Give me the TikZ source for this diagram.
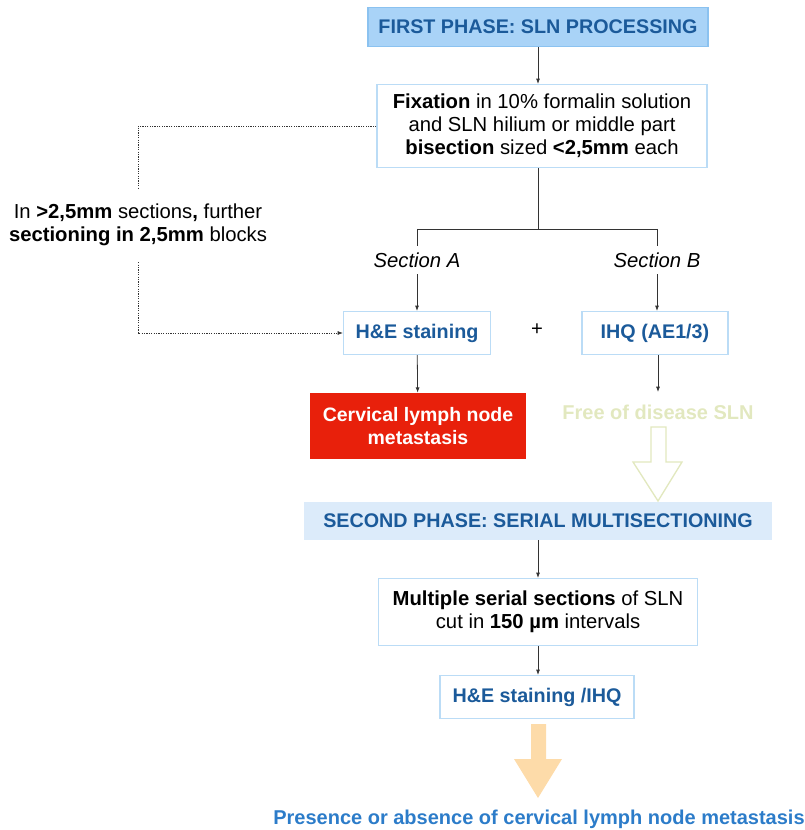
\documentclass[tikz,border=0pt]{standalone}
\usepackage{fontspec}
\setmainfont{Liberation Sans}
\usetikzlibrary{arrows.meta}

\definecolor{titleblue}{HTML}{1B5A9A}
\definecolor{resultblue}{HTML}{2C7CC9}
\definecolor{phaseonefill}{HTML}{A9D3F7}
\definecolor{phaseoneline}{HTML}{8BC2F0}
\definecolor{phasetwofill}{HTML}{DCEBFA}
\definecolor{boxline}{HTML}{BBDCF6}
\definecolor{metared}{HTML}{E8200B}
\definecolor{freegreen}{HTML}{E2E8BF}
\definecolor{bigorange}{HTML}{FDDBA9}
\definecolor{linegray}{HTML}{333333}

\begin{document}
\begin{tikzpicture}[
            x=0.75pt,
            y=-0.75pt,
            font=\fontsize{15.2}{17.4}\selectfont,
            box/.style={
                draw=boxline,
                fill=white,
                line width=0.8pt,
                align=center,
                inner sep=0pt
            },
            phase/.style={
                inner sep=0pt,
                align=center,
                text=titleblue,
                font=\fontsize{14.8}{17}\selectfont\bfseries
            },
            bluelabel/.style={
                text=titleblue,
                font=\fontsize{14.8}{17}\selectfont\bfseries
            },
            link/.style={
                draw=linegray,
                line width=0.6pt,
                -{Latex[length=4pt,width=3pt]}
            },
            plain/.style={
                draw=linegray,
                line width=0.6pt
            },
            dotline/.style={
                draw=linegray,
                line width=0.6pt,
                dash pattern=on 0.9pt off 0.9pt,
                -{Latex[length=4pt,width=3pt]}
            }
        ]

            \useasboundingbox (0,0) rectangle (805,830);

            % first phase
            \node[phase, draw=phaseoneline, fill=phaseonefill, line width=0.8pt,
                minimum width=255pt, minimum height=29.25pt] (p1) at (538, 27)
                {FIRST PHASE: SLN PROCESSING};

            \node[box, minimum width=247.5pt, minimum height=62.25pt] (fix) at (542, 126)
                {\textbf{Fixation} in 10\% formalin solution\\
                 and SLN hilium or middle part\\
                 \textbf{bisection} sized \textbf{<2,5mm} each};

            \node[align=center, minimum height=55.5pt, inner sep=0pt] (note) at (138, 225)
                {In \textbf{>2,5mm} sections\textbf{,} further\\
                 \textbf{sectioning in 2,5mm} blocks};

            \coordinate (split) at (538, 229);
            \coordinate (bA) at (417, 229);
            \coordinate (bB) at (657, 229);

            \node[font=\fontsize{15.2}{17}\selectfont\itshape, inner sep=5pt] (secA) at (417, 260) {Section A};
            \node[font=\fontsize{15.2}{17}\selectfont\itshape, inner sep=5pt] (secB) at (657, 260) {Section B};

            \node[box, bluelabel, minimum width=110.25pt, minimum height=32.25pt] (he) at (417, 333)
                {H\&E staining};
            \node[box, bluelabel, minimum width=109.5pt, minimum height=32.25pt] (ihq) at (655, 333)
                {IHQ (AE1/3)};
            \node (plus) at (537, 330) {+};

            \node[fill=metared, text=white, align=center, inner sep=0pt,
                font=\fontsize{14.6}{17}\selectfont\bfseries,
                minimum width=162pt, minimum height=49.5pt] (meta) at (418, 426)
                {Cervical lymph node\\metastasis};
            \node[text=freegreen, font=\fontsize{15}{17}\selectfont\bfseries,
                inner sep=0pt, minimum height=15pt] (free) at (658, 412)
                {Free of disease SLN};

            % second phase
            \node[phase, fill=phasetwofill, minimum width=351pt, minimum height=28.5pt] (p2) at (538, 521)
                {SECOND PHASE: SERIAL MULTISECTIONING};

            \node[box, minimum width=239.25pt, minimum height=50.25pt] (multi) at (538, 612)
                {\textbf{Multiple serial sections} of SLN\\
                 cut in \textbf{150 µm} intervals};

            \node[box, bluelabel, minimum width=145.5pt, minimum height=32.25pt] (heihq) at (537, 697)
                {H\&E staining /IHQ};

            \node[text=resultblue, font=\fontsize{15}{17}\selectfont\bfseries, inner sep=0pt] (result) at (539, 819)
                {Presence or absence of cervical lymph node metastasis};

            % connectors
            \draw[link] (p1.south) -- (p1.south |- fix.north);
            \draw[plain] (fix.south -| split) -- (split);
            \draw[plain] (bA) -- (bB);
            \draw[plain] (bA) -- (secA);
            \draw[plain] (bB) -- (secB);
            \draw[link] (secA) -- (he);
            \draw[link] (secB.south) -- (secB.south |- ihq.north);

            \draw[link] (he) -- (meta);
            \draw[link] (ihq.south -| free) -- ++(0, 37);

            \draw[dotline, -] (fix.west) -| (note.north);
            \draw[dotline] (note.south) |- (he.west);

            \draw[link] (p2.south) -- (multi.north);
            \draw[link] (multi.south) -- (multi.south |- heihq.north);

            % big arrows
            \draw[draw=freegreen, line width=1pt, fill=white]
                (651, 427) -- (666, 427) -- (666, 462) -- (682, 462)
                -- (658, 501) -- (633, 462) -- (651, 462) -- cycle;
            \fill[bigorange]
                (531, 724) -- (546, 724) -- (546, 759) -- (562, 759)
                -- (538, 798) -- (514, 759) -- (531, 759) -- cycle;

        \end{tikzpicture}
\end{document}
